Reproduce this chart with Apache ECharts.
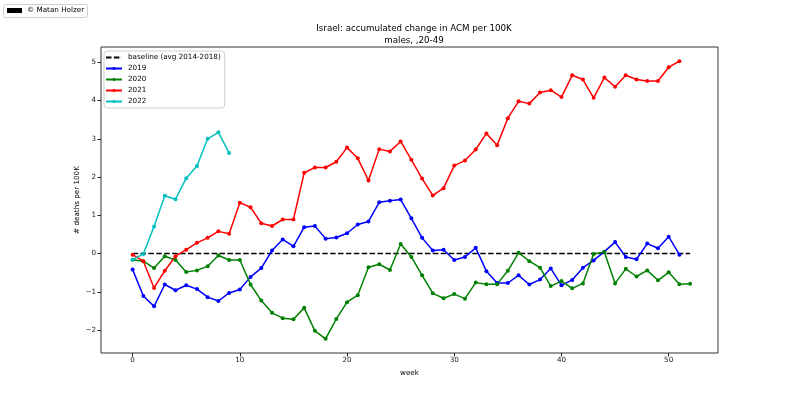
<!DOCTYPE html>
<html>
<head>
<meta charset="utf-8">
<script src="https://cdn.jsdelivr.net/npm/echarts@6/dist/echarts.min.js"></script>
<style>
  html, body { margin: 0; padding: 0; background: #fff; }
  #chart { width: 800px; height: 397px; }
</style>
</head>
<body>
<div id="chart"></div>
<script>
// values (accumulated change, deaths per 100K)
const xTicks = [0, 10, 20, 30, 40, 50]
const yTicks = [-2, -1, 0, 1, 2, 3, 4, 5]

const baselineWeeks = [0, 52]
const baselineValues = [0, 0]

const weeks2019 = [0, 1, 2, 3, 4, 5, 6, 7, 8, 9, 10, 11, 12, 13, 14, 15, 16, 17, 18, 19, 20, 21, 22, 23, 24, 25,
  26, 27, 28, 29, 30, 31, 32, 33, 34, 35, 36, 37, 38, 39, 40, 41, 42, 43, 44, 45, 46, 47, 48, 49, 50, 51]
const values2019 = [-0.42, -1.11, -1.38, -0.81, -0.96, -0.83, -0.93, -1.14, -1.24, -1.03, -0.94, -0.61, -0.38,
  0.08, 0.37, 0.19, 0.69, 0.72, 0.39, 0.42, 0.53, 0.76, 0.84, 1.34, 1.38, 1.41, 0.92, 0.41, 0.08, 0.10, -0.17,
  -0.09, 0.15, -0.46, -0.77, -0.77, -0.57, -0.81, -0.68, -0.39, -0.83, -0.69, -0.37, -0.18, 0.05, 0.30, -0.09,
  -0.15, 0.26, 0.14, 0.44, -0.03]

const weeks2020 = [0, 1, 2, 3, 4, 5, 6, 7, 8, 9, 10, 11, 12, 13, 14, 15, 16, 17, 18, 19, 20, 21, 22, 23, 24, 25,
  26, 27, 28, 29, 30, 31, 32, 33, 34, 35, 36, 37, 38, 39, 40, 41, 42, 43, 44, 45, 46, 47, 48, 49, 50, 51, 52]
const values2020 = [-0.16, -0.20, -0.38, -0.07, -0.17, -0.48, -0.44, -0.33, -0.05, -0.17, -0.17, -0.81, -1.23,
  -1.55, -1.69, -1.72, -1.42, -2.02, -2.23, -1.71, -1.27, -1.09, -0.36, -0.28, -0.43, 0.25, -0.09, -0.57, -1.04,
  -1.17, -1.06, -1.18, -0.76, -0.80, -0.80, -0.45, 0.02, -0.20, -0.37, -0.85, -0.72, -0.91, -0.78, -0.01, 0.04,
  -0.78, -0.40, -0.60, -0.44, -0.70, -0.49, -0.80, -0.79]

const weeks2021 = [0, 1, 2, 3, 4, 5, 6, 7, 8, 9, 10, 11, 12, 13, 14, 15, 16, 17, 18, 19, 20, 21, 22, 23, 24, 25,
  26, 27, 28, 29, 30, 31, 32, 33, 34, 35, 36, 37, 38, 39, 40, 41, 42, 43, 44, 45, 46, 47, 48, 49, 50, 51]
const values2021 = [-0.03, -0.20, -0.90, -0.45, -0.07, 0.10, 0.28, 0.41, 0.58, 0.52, 1.33, 1.21, 0.79, 0.72,
  0.89, 0.89, 2.11, 2.25, 2.25, 2.40, 2.77, 2.49, 1.91, 2.73, 2.67, 2.93, 2.45, 1.96, 1.52, 1.71, 2.30, 2.43,
  2.72, 3.14, 2.83, 3.54, 3.98, 3.92, 4.21, 4.27, 4.09, 4.66, 4.55, 4.07, 4.60, 4.36, 4.66, 4.55, 4.51, 4.51,
  4.87, 5.03]

const weeks2022 = [0, 1, 2, 3, 4, 5, 6, 7, 8, 9]
const values2022 = [-0.16, -0.01, 0.71, 1.51, 1.42, 1.97, 2.29, 3.00, 3.17, 2.63]

const font = 'DejaVu Sans'

function pairs (xs, ys) {
  return xs.map((x, i) => [x, ys[i]])
}

function yearSeries (name, color, xs, ys) {
  return {
    name: name,
    type: 'line',
    data: pairs(xs, ys),
    symbol: 'circle',
    symbolSize: 4,
    itemStyle: { color: color },
    lineStyle: { color: color, width: 1.5 },
    emphasis: { disabled: true },
    animation: false
  }
}

const chart = echarts.init(document.getElementById('chart'))
chart.setOption({
  animation: false,
  textStyle: { fontFamily: font },
  title: {
    text: 'Israel: accumulated change in ACM per 100K\nmales, ,20-49',
    left: 409,
    top: 18,
    textAlign: 'center',
    textStyle: { fontFamily: font, fontSize: 8.7, fontWeight: 'normal', color: '#000', lineHeight: 12 }
  },
  legend: {
    orient: 'vertical',
    left: 104,
    top: 51,
    padding: [1, 4, 1, 1],
    itemGap: 0,
    itemWidth: 16,
    itemHeight: 4,
    backgroundColor: '#fff',
    borderColor: '#d0d0d0',
    borderWidth: 1,
    borderRadius: 3,
    textStyle: { fontFamily: font, fontSize: 7.2, color: '#000', padding: [0, 0, 0, 1], lineHeight: 11 },
    data: [
      { name: 'baseline (avg 2014-2018)', itemStyle: { opacity: 0 } },
      '2019', '2020', '2021', '2022'
    ]
  },
  graphic: [
    {
      type: 'rect',
      left: 3,
      top: 4,
      shape: { width: 84, height: 13, r: 2 },
      style: { fill: '#fff', stroke: '#d0d0d0', lineWidth: 1 }
    },
    {
      type: 'rect',
      left: 7,
      top: 8,
      shape: { width: 15, height: 5 },
      style: { fill: '#000' }
    },
    {
      type: 'text',
      left: 27,
      top: 6.5,
      style: { text: '© Matan Holzer', fontFamily: font, fontSize: 7.2, fill: '#000' }
    }
  ],
  grid: {
    left: 101,
    right: 82,
    top: 47,
    bottom: 44,
    show: true,
    borderColor: '#333',
    borderWidth: 1,
    backgroundColor: 'transparent'
  },
  xAxis: {
    type: 'value',
    min: -2.95,
    max: 54.6,
    name: 'week',
    nameLocation: 'middle',
    nameGap: 17,
    nameMoveOverlap: false,
    nameTextStyle: { fontFamily: font, fontSize: 7.2, color: '#000' },
    axisLine: { show: false, onZero: false },
    splitLine: { show: false },
    axisTick: { show: true, length: 3.5, lineStyle: { color: '#222' }, customValues: xTicks },
    axisLabel: { fontFamily: font, fontSize: 7.2, color: '#222', margin: 4, customValues: xTicks }
  },
  yAxis: {
    type: 'value',
    min: -2.6,
    max: 5.4,
    name: '# deaths per 100K',
    nameLocation: 'middle',
    nameRotate: 90,
    nameGap: 20,
    nameMoveOverlap: false,
    nameTextStyle: { fontFamily: font, fontSize: 7.2, color: '#000' },
    axisLine: { show: false, onZero: false },
    splitLine: { show: false },
    axisTick: { show: true, length: 3.5, lineStyle: { color: '#222' }, customValues: yTicks },
    axisLabel: {
      fontFamily: font,
      fontSize: 7.2,
      color: '#222',
      margin: 5,
      customValues: yTicks,
      formatter: v => (v < 0 ? '\u2212' + Math.abs(v) : String(v))
    }
  },
  series: [
    {
      name: 'baseline (avg 2014-2018)',
      type: 'line',
      data: pairs(baselineWeeks, baselineValues),
      symbol: 'none',
      itemStyle: { color: '#000' },
      lineStyle: { color: '#000', width: 1.5, type: [5.5, 2.4] },
      emphasis: { disabled: true },
      animation: false
    },
    yearSeries('2019', '#0000ff', weeks2019, values2019),
    yearSeries('2020', '#008000', weeks2020, values2020),
    yearSeries('2021', '#ff0000', weeks2021, values2021),
    yearSeries('2022', '#00bfbf', weeks2022, values2022)
  ]
})
</script>
</body>
</html>
